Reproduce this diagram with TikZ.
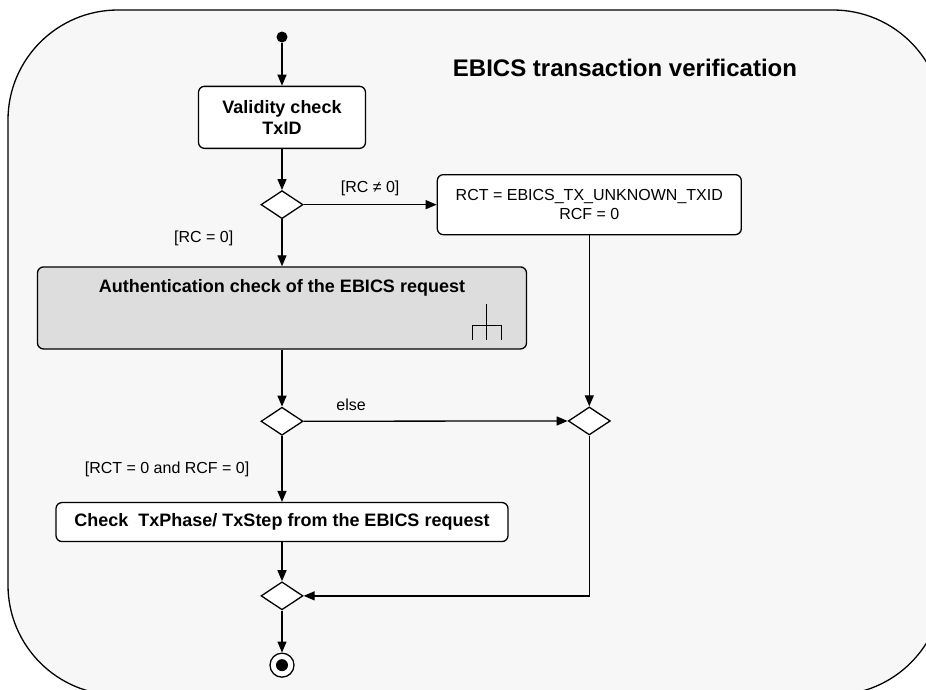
\documentclass[tikz,border=0pt]{standalone}
\usepackage{fontspec}
\setmainfont{Liberation Sans}
\usetikzlibrary{arrows.meta,positioning,calc,shapes.geometric}
\definecolor{framegray}{HTML}{F7F7F7}
\definecolor{subgray}{HTML}{DDDDDD}

\begin{document}
\begin{tikzpicture}[x=1pt,y=-1pt,
  abox/.style={draw=black,fill=white,rounded corners=6pt,align=center,line width=1.3pt,
               inner sep=0pt,font=\fontsize{18}{21}\selectfont\bfseries},
  nbox/.style={abox,font=\fontsize{16}{19}\selectfont},
  subbox/.style={abox,fill=subgray,minimum width=489pt,minimum height=82pt},
  decision/.style={diamond,draw=black,fill=white,line width=1.3pt,inner sep=0pt,
                   minimum width=42pt,minimum height=28pt},
  startnode/.style={circle,fill=black,inner sep=0pt,minimum size=11pt},
  stopnode/.style={circle,draw=black,fill=white,line width=1.3pt,inner sep=0pt,minimum size=24pt,
                   path picture={\fill[black] (path picture bounding box.center) circle (6pt);}},
  guard/.style={font=\fontsize{16}{19}\selectfont,inner sep=0pt},
  flow/.style={-{Triangle[length=11pt,width=9pt]},draw=black,line width=1.3pt}]

\useasboundingbox (0,0) rectangle (926,689);
\clip (0,0) rectangle (926,689);

% frame of the activity
\draw[fill=framegray,line width=1.3pt,rounded corners=110pt] (8,10) rectangle (943,695);
\node[font=\fontsize{24}{28}\selectfont\bfseries] (title) at (625,68) {EBICS transaction verification};

% left column
\node[startnode] (start) at (282,37) {};
\node[abox,minimum width=167pt,minimum height=62pt,below=43pt of start] (valid) {Validity check\\TxID};
\node[decision,below=41pt of valid] (d1) {};
\node[subbox,below=47pt of d1] (auth) {};
\node[font=\fontsize{18}{21}\selectfont\bfseries] (authtxt) at ($(auth.north)+(0,22)$) {Authentication check of the EBICS request};
\node[decision,below=57pt of auth] (d2) {};
\node[abox,minimum width=452pt,minimum height=39pt,below=66pt of d2] (check) {Check~~TxPhase/ TxStep from the EBICS request};
\node[decision,below=39pt of check] (d4) {};
\node[stopnode,below=42pt of d4] (stop) {};

% right column
\node[nbox,minimum width=304pt,minimum height=60pt,right=133pt of d1] (rct) {RCT = EBICS\_TX\_UNKNOWN\_TXID\\RCF = 0};
\node[decision,below=171pt of rct] (d3) {};

% rake of the call behaviour
\draw[line width=1.1pt] ($(auth.south east)+(-41,-46)$) -- ++(0,36);
\draw[line width=1.1pt] ($(auth.south east)+(-55,-10)$) -- ++(0,-14) -- ++(29,0) -- ++(0,14);

\draw[flow] (start) -- (valid);
\draw[flow] (valid) -- (d1);
\draw[flow] (d1) -- node[guard,above=8pt]{[RC ≠ 0]} (rct);
\draw[flow] (d1) -- node[guard,pos=0.4,left=48pt]{[RC = 0]} (auth);
\draw[flow] (auth) -- (d2);
\draw[flow] (rct) -- (d3);
\draw[flow] (d2) -- node[guard,pos=0.18,above=10pt]{else} (d3);
\draw[flow] (d2) -- node[guard,left=32pt]{[RCT = 0 and RCF = 0]} (check);
\draw[flow] (check) -- (d4);
\draw[flow] (d3.south) |- (d4.east);
\draw[flow] (d4) -- (stop);

\end{tikzpicture}
\end{document}
